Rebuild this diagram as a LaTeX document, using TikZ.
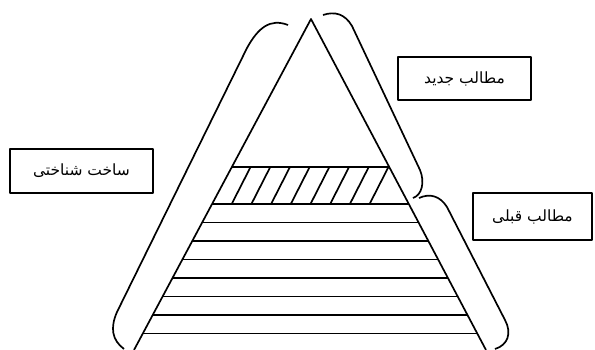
\documentclass[tikz,border=0pt]{standalone}
\usepackage{fontspec}
\setmainfont{DejaVu Sans}
\newfontfamily\arabicfont[Script=Arabic]{DejaVu Sans}
\TeXXeTstate=1
\usetikzlibrary{positioning}
\tikzset{namebox/.style={draw,line width=1pt,inner sep=0pt,font=\arabicfont\fontsize{11}{13}\selectfont}}
\newcommand{\fa}[1]{\beginR #1\endR}

\begin{document}
\begin{tikzpicture}[x=0.025cm,y=-0.025cm,line width=1.2pt,line join=round]
\useasboundingbox (0,0) rectangle (595,350);
\coordinate (apex) at (311,19);\coordinate (bl) at (134,350);\coordinate (br) at (486,350);
% layers
\begin{scope}
\clip (apex)--(bl)--(br)--cycle;
\foreach \y in {166.7,204,222.5,241,259.5,278,296.5,315,333.5}{\draw (0,\y)--(595,\y);}
\foreach \k in {0,...,7}{\draw (231.7+19.7*\k,204)--(250.7+19.7*\k,166.7);}
\end{scope}
\draw (bl)--(apex)--(br);
% brackets
\draw (288,25) .. controls (270,18) and (258,28) .. (247,48)--(117,312) .. controls (110,328) and (112,340) .. (124,349);
\draw (323,15) .. controls (335,11) and (345,14) .. (352,26)--(420,170) .. controls (425,182) and (422,195) .. (413,198);
\draw (419,198) .. controls (430,193) and (440,196) .. (447,207)--(505,320) .. controls (512,333) and (508,345) .. (495,349);
\node[namebox,minimum width=3.575cm,minimum height=1.1cm] (cog) at (81.5,171) {\fa{ساخت شناختی}};
\node[namebox,minimum width=3.325cm,minimum height=1.075cm] (new) at (464.5,78.5) {\fa{مطالب جدید}};
\node[namebox,minimum width=2.975cm,minimum height=1.175cm] (old) at (532.5,216.5) {\fa{مطالب قبلی}};
\end{tikzpicture}
\end{document}
